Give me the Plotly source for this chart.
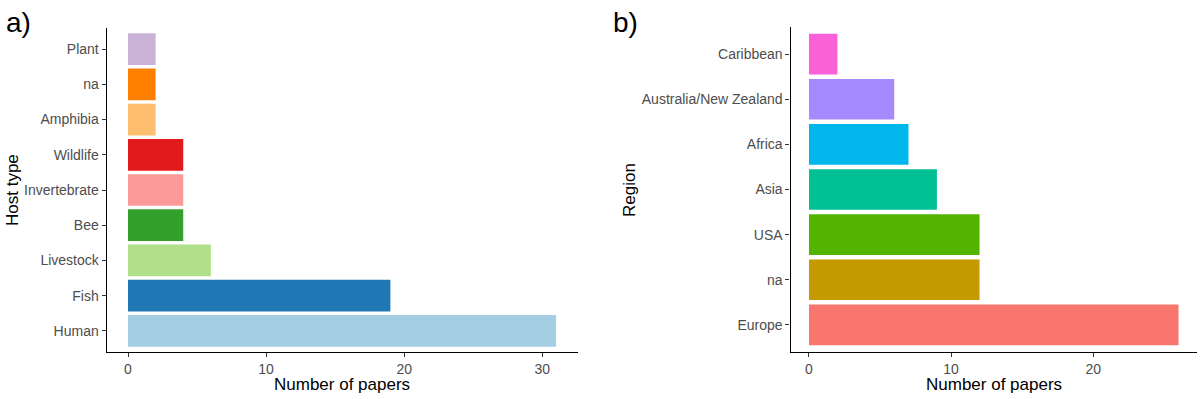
import plotly.graph_objects as go

# Panel a) Host type
host_types = ["Human", "Fish", "Livestock", "Bee", "Invertebrate", "Wildlife", "Amphibia", "na", "Plant"]
host_counts = [31, 19, 6, 4, 4, 4, 2, 2, 2]
host_colors = ["#A6CEE3", "#1F78B4", "#B2DF8A", "#33A02C", "#FB9A99", "#E31A1C", "#FDBF6F", "#FF7F00", "#CAB2D6"]

# Panel b) Region
regions = ["Europe", "na", "USA", "Asia", "Africa", "Australia/New Zealand", "Caribbean"]
region_counts = [26, 12, 12, 9, 7, 6, 2]
region_colors = ["#F8766D", "#C49A00", "#53B400", "#00C094", "#00B6EB", "#A58AFF", "#FB61D7"]

W, H = 1200, 399
FONT = "Liberation Sans, Arial, sans-serif"

fig = go.Figure()
fig.add_trace(go.Bar(x=host_counts, y=host_types, orientation="h",
                     marker=dict(color=host_colors, line=dict(width=0)),
                     xaxis="x", yaxis="y", showlegend=False))
fig.add_trace(go.Bar(x=region_counts, y=regions, orientation="h",
                     marker=dict(color=region_colors, line=dict(width=0)),
                     xaxis="x2", yaxis="y2", showlegend=False))

def px_x(v):
    return v / W

def px_y(v):
    return 1 - v / H

common_x = dict(showline=True, linecolor="black", linewidth=1.1, ticks="outside",
                ticklen=4, tickcolor="#333333", tickwidth=1.1, showgrid=False, zeroline=False,
                tickfont=dict(family=FONT, size=14, color="#4D4D4D"), dtick=10)
common_y = dict(showline=True, linecolor="black", linewidth=1.1, ticks="outside",
                ticklen=4, tickcolor="#333333", tickwidth=1.1, showgrid=False, zeroline=False,
                tickfont=dict(family=FONT, size=14, color="#4D4D4D"), type="category")

hmax = max(host_counts)
rmax = max(region_counts)

fig.update_layout(
    width=W, height=H,
    margin=dict(l=0, r=0, t=0, b=0),
    plot_bgcolor="white", paper_bgcolor="white",
    bargap=0.1,
    font=dict(family=FONT),
    xaxis=dict(domain=[px_x(106.6), px_x(577.5)], anchor="y",
               range=[-0.05 * hmax, 1.05 * hmax], **common_x),
    yaxis=dict(domain=[px_y(352), px_y(28)], anchor="x",
               range=[-0.6, len(host_types) - 0.4],
               categoryorder="array", categoryarray=host_types, **common_y),
    xaxis2=dict(domain=[px_x(790.5), px_x(1197)], anchor="y2",
                range=[-0.05 * rmax, 1.05 * rmax], **common_x),
    yaxis2=dict(domain=[px_y(352), px_y(27)], anchor="x2",
                range=[-0.6, len(regions) - 0.4],
                categoryorder="array", categoryarray=regions, **common_y),
)

ann = []
# axis titles
ann.append(dict(text="Number of papers", x=px_x(342), y=px_y(384), xref="paper", yref="paper",
                showarrow=False, font=dict(family=FONT, size=17, color="black"),
                xanchor="center", yanchor="middle"))
ann.append(dict(text="Number of papers", x=px_x(994), y=px_y(384), xref="paper", yref="paper",
                showarrow=False, font=dict(family=FONT, size=17, color="black"),
                xanchor="center", yanchor="middle"))
ann.append(dict(text="Host type", x=px_x(12), y=px_y(190), xref="paper", yref="paper",
                showarrow=False, textangle=-90, font=dict(family=FONT, size=17, color="black"),
                xanchor="center", yanchor="middle"))
ann.append(dict(text="Region", x=px_x(629), y=px_y(190), xref="paper", yref="paper",
                showarrow=False, textangle=-90, font=dict(family=FONT, size=17, color="black"),
                xanchor="center", yanchor="middle"))
# panel labels
ann.append(dict(text="a)", x=px_x(4), y=px_y(22), xref="paper", yref="paper",
                showarrow=False, font=dict(family=FONT, size=28, color="black"),
                xanchor="left", yanchor="middle"))
ann.append(dict(text="b)", x=px_x(611), y=px_y(22), xref="paper", yref="paper",
                showarrow=False, font=dict(family=FONT, size=28, color="black"),
                xanchor="left", yanchor="middle"))
fig.update_layout(annotations=ann)

fig.write_html("out.html", config={"displayModeBar": False},
               post_script="document.body.style.margin='0';document.body.style.overflow='hidden';")
